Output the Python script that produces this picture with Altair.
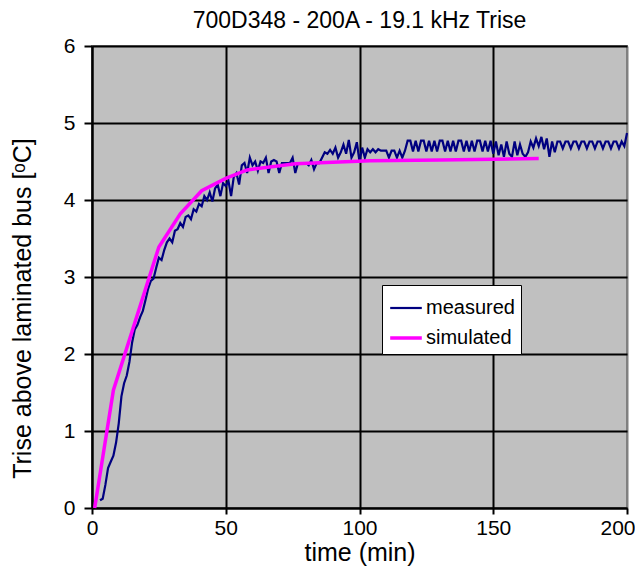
import altair as alt
import pandas as pd

measured_time = list(range(3, 201))
measured_values = [
    0.10, 0.12, 0.30, 0.52, 0.60, 0.68, 0.85, 1.10,
    1.45, 1.62, 1.72, 1.90, 2.15, 2.32, 2.38, 2.48, 2.56, 2.70,
    2.85, 2.95, 2.98, 3.12, 3.25, 3.22, 3.35, 3.45, 3.50, 3.45,
    3.60, 3.62, 3.70, 3.65, 3.78, 3.80, 3.75, 3.88, 3.85, 3.95,
    3.92, 4.05, 4.00, 4.10, 3.98, 4.15, 4.20, 4.05, 4.22, 4.18,
    4.25, 4.05, 4.30, 4.35, 4.20, 4.45, 4.48, 4.35, 4.55, 4.45,
    4.50, 4.38, 4.50, 4.48, 4.55, 4.35, 4.50, 4.52, 4.50, 4.35,
    4.48, 4.48, 4.48, 4.48, 4.55, 4.35, 4.48, 4.48, 4.48, 4.48,
    4.45, 4.52, 4.40, 4.48, 4.48, 4.55, 4.62, 4.60, 4.65, 4.60,
    4.68, 4.55, 4.62, 4.72, 4.60, 4.78, 4.55, 4.62, 4.75, 4.50,
    4.68, 4.55, 4.66, 4.62, 4.66, 4.62, 4.66, 4.64, 4.64, 4.64,
    4.55, 4.64, 4.64, 4.55, 4.64, 4.55, 4.64, 4.77, 4.77, 4.63,
    4.77, 4.63, 4.77, 4.77, 4.63, 4.77, 4.63, 4.77, 4.63, 4.77,
    4.77, 4.63, 4.77, 4.63, 4.77, 4.63, 4.77, 4.77, 4.63, 4.77,
    4.63, 4.77, 4.63, 4.77, 4.77, 4.63, 4.77, 4.63, 4.77, 4.60,
    4.76, 4.58, 4.72, 4.56, 4.76, 4.60, 4.56, 4.76, 4.58, 4.72,
    4.60, 4.56, 4.62, 4.76, 4.68, 4.80, 4.70, 4.82, 4.66, 4.80,
    4.56, 4.76, 4.62, 4.76, 4.76, 4.67, 4.76, 4.76, 4.67, 4.76,
    4.76, 4.67, 4.76, 4.76, 4.67, 4.76, 4.76, 4.67, 4.76, 4.76,
    4.67, 4.76, 4.76, 4.67, 4.76, 4.76, 4.67, 4.76, 4.70, 4.87,
]

simulated_time = [1, 8, 25, 33, 41, 50, 58, 76, 104, 130, 150, 167]
simulated_values = [0.0, 1.53, 3.39, 3.82, 4.12, 4.28, 4.39, 4.47, 4.51, 4.52, 4.53, 4.54]

series_names = ["measured", "simulated"]
series_colors = ["#000080", "#ff00ff"]
series_widths = [2.2, 3.5]

x_ticks = [0, 50, 100, 150, 200]
y_ticks = [0, 1, 2, 3, 4, 5, 6]

df = pd.concat([
    pd.DataFrame({"t": measured_time, "v": measured_values, "series": series_names[0], "o": range(len(measured_time))}),
    pd.DataFrame({"t": simulated_time, "v": simulated_values, "series": series_names[1], "o": range(len(simulated_time))}),
])

FONT = "Liberation Sans"

chart = alt.Chart(df).mark_line().encode(
    x=alt.X("t:Q", scale=alt.Scale(domain=[0, 200], nice=False),
            axis=alt.Axis(values=x_ticks, title="time (min)", grid=True,
                          gridColor={"condition": {"test": "datum.value === 200", "value": "#808080"}, "value": "black"},
                          gridWidth=2, domainColor="black", domainWidth=2,
                          tickColor="black", tickWidth=2, tickSize=6,
                          labelAlign={"condition": {"test": "datum.value === 200", "value": "right"}, "value": "center"},
                          labelOffset={"condition": {"test": "datum.value === 200", "value": 8}, "value": 0},
                          labelFontSize=21, titleFontSize=25, labelColor="black", titleColor="black",
                          labelFont=FONT, titleFont=FONT, labelPadding=3, titlePadding=2,
                          titleFontWeight="normal", labelFlush=False)),
    y=alt.Y("v:Q", scale=alt.Scale(domain=[0, 6], nice=False),
            axis=alt.Axis(values=y_ticks, title="Trise above laminated bus [ᵒC]", grid=True,
                          gridColor="black", gridWidth=2, domainColor="black", domainWidth=2,
                          tickColor="black", tickWidth=2, tickSize=8,
                          labelFontSize=21, titleFontSize=25, labelColor="black", titleColor="black",
                          labelFont=FONT, titleFont=FONT, labelPadding=9,
                          titleX=-70, titleY=262, titleBaseline="middle",
                          titleFontWeight="normal", labelFlush=False)),
    color=alt.Color("series:N", scale=alt.Scale(domain=series_names, range=series_colors),
                    legend=alt.Legend(title=None, orient="none", legendX=290, legendY=239,
                                      fillColor="white", strokeColor="black", padding=6,
                                      symbolType="stroke", symbolSize=1000, symbolStrokeWidth=2.5,
                                      labelFontSize=20, labelFont=FONT, labelColor="black",
                                      rowPadding=2, labelOffset=2)),
    strokeWidth=alt.StrokeWidth("series:N", scale=alt.Scale(domain=series_names, range=series_widths), legend=None),
    order="o:Q",
).properties(
    width=535, height=462,
    title=alt.TitleParams("700D348 - 200A - 19.1 kHz Trise", fontSize=23, font=FONT,
                          fontWeight="normal", color="black", frame="group", offset=2),
    padding={"left": 84, "top": 38, "right": 8, "bottom": 58},
    autosize="none",
).configure_view(
    fill="#c0c0c0", stroke="#808080", strokeWidth=2
)

chart.save("out.html", embed_options={"renderer": "svg", "actions": False})
